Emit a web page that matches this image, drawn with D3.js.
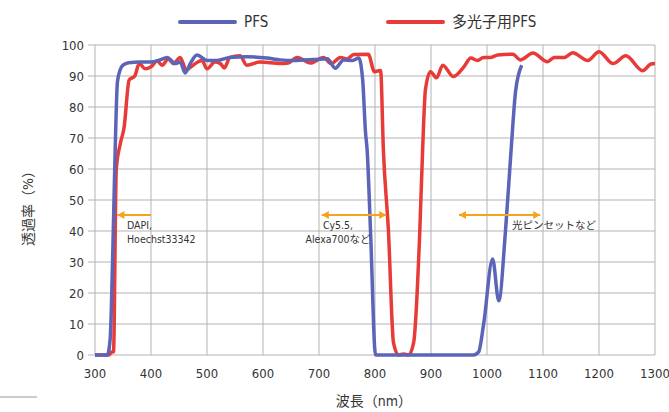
<!DOCTYPE html>
<html>
<head>
<meta charset="utf-8">
<script src="https://cdn.jsdelivr.net/npm/d3@7"></script>
<style>
  body { margin: 0; background: #fff; }
  svg text { font-family: "DejaVu Sans", "Noto Sans CJK JP", sans-serif; font-stretch: condensed; fill: #333; }
  .jp { font-family: "DejaVu Sans", "Noto Sans CJK JP", sans-serif; font-stretch: condensed; }
</style>
</head>
<body>
<svg id="chart" width="669" height="412"></svg>
<script>
// PFS (blue)
const pfsNm = [300, 322, 327, 332, 336, 340, 345, 350, 360, 380, 400, 416, 429, 443, 452, 461, 470, 482, 500, 518, 541, 571, 607, 631, 654, 690, 715, 729, 744, 760, 771, 778, 783, 786, 792, 801, 976, 985, 994, 1010, 1021, 1033, 1043, 1051, 1062];
const pfsT  = [0, 0, 5, 35, 66, 88, 92, 93.5, 94.3, 94.5, 94.5, 95.2, 96, 94, 94.5, 91, 94, 96.8, 95, 95, 96, 96.2, 95.8, 95.2, 95, 95.3, 95.6, 92.5, 95.2, 95, 95.8, 88.7, 72, 66, 40, 0, 0, 1, 10, 31, 17.5, 40, 66, 85, 93.5];
// 多光子用PFS (red)
const mpNm = [300, 325, 330, 333, 338, 345, 352, 361, 371, 379, 390, 400, 411, 420, 431, 440, 452, 463, 475, 491, 500, 514, 524, 531, 541, 559, 571, 595, 631, 645, 661, 685, 708, 722, 738, 750, 762, 788, 799, 810, 815, 824, 833, 842, 851, 860, 869, 880, 885, 890, 899, 910, 921, 940, 959, 971, 983, 994, 1007, 1019, 1046, 1060, 1082, 1108, 1120, 1138, 1153, 1180, 1200, 1225, 1248, 1278, 1293, 1300];
const mpT  = [0, 0, 1, 1, 60, 68, 73.5, 88.7, 90, 94, 92.3, 93, 94.8, 93.5, 95.5, 94, 96, 92, 93.5, 95, 92.3, 94.5, 94, 92.6, 96, 96.5, 93.5, 94.5, 94, 94.2, 96, 94.2, 96, 94, 96, 95.5, 96.9, 97, 91.4, 91.8, 66, 40, 4, 0, 0.3, 0, 4, 40, 66, 85.5, 91.4, 89.4, 93.5, 89.8, 93, 95.8, 95, 96, 96, 96.8, 97, 95.2, 97.4, 94.6, 96, 96, 97.5, 95, 97.8, 94, 96.5, 91.7, 93.9, 94];

const xTicks = [300, 400, 500, 600, 700, 800, 900, 1000, 1100, 1200, 1300];
const yTicks = [0, 10, 20, 30, 40, 50, 60, 70, 80, 90, 100];

const seriesNames = ["PFS", "多光子用PFS"];
const seriesColors = ["#5b64b7", "#e83a36"];

// annotation ranges in nm
const notes = [
  { from: 400, to: 340, both: false, lines: ["DAPI,", "Hoechst33342"], tx: 127, anchor: "start" },
  { from: 705, to: 820, both: true, lines: ["Cy5.5,", "Alexa700など"], tx: 338, anchor: "middle" },
  { from: 950, to: 1095, both: true, lines: ["光ピンセットなど"], tx: 512, anchor: "start" }
];

const svg = d3.select("#chart");
const mLeft = 95, mRight = 655, mTop = 45, mBottom = 355;

const x = d3.scaleLinear().domain([300, 1300]).range([mLeft, mRight]);
const y = d3.scaleLinear().domain([0, 100]).range([mBottom, mTop]);

const grid = svg.append("g");
grid.selectAll("line.v")
  .data(xTicks)
  .enter().append("line")
  .attr("x1", d => x(d)).attr("x2", d => x(d))
  .attr("y1", mTop).attr("y2", mBottom)
  .attr("stroke", "#b3b3b3").attr("stroke-width", 1);
grid.selectAll("line.h")
  .data(yTicks)
  .enter().append("line")
  .attr("x1", mLeft - 7).attr("x2", mRight)
  .attr("y1", d => y(d)).attr("y2", d => y(d))
  .attr("stroke", "#b3b3b3").attr("stroke-width", 1);

svg.append("g").selectAll("text")
  .data(xTicks)
  .enter().append("text")
  .attr("x", d => x(d)).attr("y", mBottom + 23)
  .attr("text-anchor", "middle")
  .style("font-size", "13px")
  .text(d => d);

svg.append("g").selectAll("text")
  .data(yTicks)
  .enter().append("text")
  .attr("x", mLeft - 11).attr("y", d => y(d) + 5)
  .attr("text-anchor", "end")
  .style("font-size", "13px")
  .text(d => d);

// axis titles
svg.append("text")
  .attr("class", "jp")
  .attr("transform", `translate(33,${(mTop + mBottom) / 2 + 5}) rotate(-90)`)
  .attr("text-anchor", "middle")
  .style("font-size", "14px")
  .text("透過率（%）");
svg.append("text")
  .attr("class", "jp")
  .attr("x", 374).attr("y", 406)
  .attr("text-anchor", "middle")
  .style("font-size", "14px")
  .text("波長（nm）");

svg.append("line")
  .attr("x1", 0).attr("x2", 37).attr("y1", 397).attr("y2", 397)
  .attr("stroke", "#999").attr("stroke-width", 1);

// curves
const line = d3.line()
  .x(d => x(d[0]))
  .y(d => y(d[1]))
  .curve(d3.curveMonotoneX);

const series = [d3.zip(pfsNm, pfsT), d3.zip(mpNm, mpT)];
const plot = svg.append("g");
plot.append("path")
  .datum(series[1])
  .attr("d", line)
  .attr("fill", "none")
  .attr("stroke", seriesColors[1])
  .attr("stroke-width", 3.5)
  .attr("stroke-linejoin", "round");
plot.append("path")
  .datum(series[0])
  .attr("d", line)
  .attr("fill", "none")
  .attr("stroke", seriesColors[0])
  .attr("stroke-width", 3.5)
  .attr("stroke-linejoin", "round");

// annotations
const orange = "#f5a21c";
const ay = 215;
notes.forEach(n => {
  const g = svg.append("g");
  const x1 = x(Math.min(n.from, n.to)), x2 = x(Math.max(n.from, n.to));
  g.append("line")
    .attr("x1", x1).attr("x2", x2).attr("y1", ay).attr("y2", ay)
    .attr("stroke", orange).attr("stroke-width", 2);
  g.append("path")
    .attr("d", `M${x1},${ay} l7,-4 l0,8 z`)
    .attr("fill", orange);
  if (n.both) {
    g.append("path")
      .attr("d", `M${x2},${ay} l-7,-4 l0,8 z`)
      .attr("fill", orange);
  }
  n.lines.forEach((t, i) => {
    g.append("text")
      .attr("class", "jp")
      .attr("x", n.tx).attr("y", 229 + i * 14)
      .attr("text-anchor", n.anchor)
      .style("font-size", "10.5px")
      .text(t);
  });
});

// legend
const legend = svg.append("g");
const lx = [180, 388];
seriesNames.forEach((name, i) => {
  legend.append("line")
    .attr("x1", lx[i]).attr("x2", lx[i] + 55)
    .attr("y1", 22).attr("y2", 22)
    .attr("stroke", seriesColors[i]).attr("stroke-width", 4)
    .attr("stroke-linecap", "round");
  legend.append("text")
    .attr("class", "jp")
    .attr("x", lx[i] + 64).attr("y", 27)
    .style("font-size", "15px")
    .text(name);
});
</script>
</body>
</html>
